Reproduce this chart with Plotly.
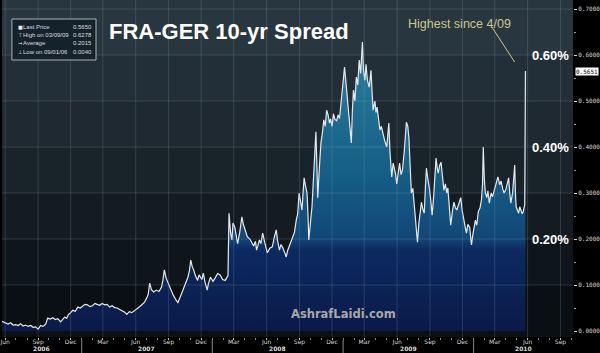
import plotly.graph_objects as go
import pandas as pd

# ---------------- data ----------------
dates = [
    "2006-05-23", "2006-05-26", "2006-06-02", "2006-06-09", "2006-06-16", "2006-06-23", "2006-06-30",
    "2006-07-07", "2006-07-14", "2006-07-21", "2006-07-28", "2006-08-04", "2006-08-11", "2006-08-18",
    "2006-08-25", "2006-09-01", "2006-09-08", "2006-09-15", "2006-09-22", "2006-09-28", "2006-10-05",
    "2006-10-12", "2006-10-19", "2006-10-26", "2006-11-03", "2006-11-09", "2006-11-14", "2006-11-20",
    "2006-11-25", "2006-12-01", "2006-12-07", "2006-12-14", "2006-12-21", "2006-12-28",
    "2007-01-03", "2007-01-10", "2007-01-17", "2007-01-24", "2007-01-31", "2007-02-07", "2007-02-13",
    "2007-02-20", "2007-02-27", "2007-03-06", "2007-03-13", "2007-03-20", "2007-03-27", "2007-04-03",
    "2007-04-10", "2007-04-17", "2007-04-24", "2007-05-01", "2007-05-07", "2007-05-14", "2007-05-21",
    "2007-05-28", "2007-06-04", "2007-06-11", "2007-06-18", "2007-06-25", "2007-07-02", "2007-07-06",
    "2007-07-10", "2007-07-15", "2007-07-21", "2007-07-29", "2007-08-05", "2007-08-12", "2007-08-16",
    "2007-08-20", "2007-08-25", "2007-08-31", "2007-09-04", "2007-09-08", "2007-09-14", "2007-09-22",
    "2007-09-27", "2007-10-04", "2007-10-11", "2007-10-18", "2007-10-25", "2007-10-29", "2007-11-02",
    "2007-11-06", "2007-11-10", "2007-11-15", "2007-11-21", "2007-11-25", "2007-11-29", "2007-12-03",
    "2007-12-07", "2007-12-12", "2007-12-18", "2007-12-21", "2007-12-27",
    "2008-01-03", "2008-01-09", "2008-01-16", "2008-01-23", "2008-01-30", "2008-02-06", "2008-02-11",
    "2008-02-14", "2008-02-17", "2008-02-21", "2008-02-25", "2008-02-28", "2008-03-04", "2008-03-08",
    "2008-03-12", "2008-03-18", "2008-03-24", "2008-03-28", "2008-04-01", "2008-04-08", "2008-04-15",
    "2008-04-21", "2008-04-26", "2008-05-01", "2008-05-04", "2008-05-08", "2008-05-12", "2008-05-16",
    "2008-05-21", "2008-05-27", "2008-06-03", "2008-06-10", "2008-06-17", "2008-06-23", "2008-06-28",
    "2008-07-02", "2008-07-07", "2008-07-11", "2008-07-15", "2008-07-21", "2008-07-26", "2008-07-30",
    "2008-08-03", "2008-08-08", "2008-08-12", "2008-08-18", "2008-08-23", "2008-08-27", "2008-08-31",
    "2008-09-04", "2008-09-08", "2008-09-11", "2008-09-14", "2008-09-18", "2008-09-22", "2008-09-25",
    "2008-09-27", "2008-10-01", "2008-10-06", "2008-10-10", "2008-10-14", "2008-10-17", "2008-10-20",
    "2008-10-22", "2008-10-27", "2008-10-31", "2008-11-04", "2008-11-08", "2008-11-12", "2008-11-16",
    "2008-11-20", "2008-11-24", "2008-11-27", "2008-12-01", "2008-12-05", "2008-12-09", "2008-12-14",
    "2008-12-18", "2008-12-22", "2008-12-25", "2008-12-30",
    "2009-01-05", "2009-01-09", "2009-01-13", "2009-01-17", "2009-01-21", "2009-01-24", "2009-01-27",
    "2009-01-30", "2009-02-03", "2009-02-07", "2009-02-11", "2009-02-15", "2009-02-19", "2009-02-24",
    "2009-02-27", "2009-03-03", "2009-03-06", "2009-03-10", "2009-03-15", "2009-03-20", "2009-03-23",
    "2009-03-26", "2009-03-31", "2009-04-03", "2009-04-06", "2009-04-10", "2009-04-14", "2009-04-18",
    "2009-04-22", "2009-04-27", "2009-05-03", "2009-05-06", "2009-05-09", "2009-05-12", "2009-05-17",
    "2009-05-21", "2009-05-25", "2009-05-28", "2009-05-31", "2009-06-04", "2009-06-08", "2009-06-12",
    "2009-06-16", "2009-06-21", "2009-06-27", "2009-07-01", "2009-07-04", "2009-07-08", "2009-07-11",
    "2009-07-15", "2009-07-19", "2009-07-23", "2009-07-28", "2009-08-01", "2009-08-04", "2009-08-08",
    "2009-08-12", "2009-08-16", "2009-08-19", "2009-08-22", "2009-08-26", "2009-08-30", "2009-09-03",
    "2009-09-07", "2009-09-11", "2009-09-15", "2009-09-18", "2009-09-21", "2009-09-24", "2009-09-28",
    "2009-10-02", "2009-10-06", "2009-10-10", "2009-10-14", "2009-10-18", "2009-10-21", "2009-10-25",
    "2009-10-29", "2009-11-03", "2009-11-07", "2009-11-11", "2009-11-15", "2009-11-20", "2009-11-26",
    "2009-11-30", "2009-12-04", "2009-12-08", "2009-12-12", "2009-12-16", "2009-12-21", "2009-12-26",
    "2009-12-30",
    "2010-01-03", "2010-01-06", "2010-01-10", "2010-01-14", "2010-01-19", "2010-01-23", "2010-01-26",
    "2010-01-28", "2010-01-31", "2010-02-03", "2010-02-07", "2010-02-10", "2010-02-14", "2010-02-19",
    "2010-02-23", "2010-02-27", "2010-03-02", "2010-03-06", "2010-03-10", "2010-03-15", "2010-03-19",
    "2010-03-23", "2010-03-27", "2010-04-01", "2010-04-05", "2010-04-09", "2010-04-12", "2010-04-15",
    "2010-04-20", "2010-04-23", "2010-04-26", "2010-04-28", "2010-04-30", "2010-05-04", "2010-05-07",
    "2010-05-10", "2010-05-12", "2010-05-17", "2010-05-20", "2010-05-24", "2010-05-26",
]

spread = [
    0.021, 0.020, 0.016, 0.015, 0.018, 0.013, 0.014,
    0.012, 0.016, 0.011, 0.013, 0.010, 0.012, 0.008,
    0.009, 0.004, 0.012, 0.010, 0.015, 0.028, 0.026,
    0.029, 0.025, 0.027, 0.020, 0.026, 0.030, 0.028,
    0.036, 0.040, 0.045, 0.043, 0.052, 0.050,
    0.054, 0.058, 0.057, 0.053, 0.055, 0.060, 0.058,
    0.056, 0.060, 0.057, 0.058, 0.052, 0.055, 0.051,
    0.050, 0.047, 0.045, 0.041, 0.036, 0.042, 0.040,
    0.044, 0.046, 0.052, 0.057, 0.062, 0.072, 0.080,
    0.104, 0.090, 0.085, 0.089, 0.086, 0.095, 0.110,
    0.133, 0.115, 0.104, 0.095, 0.090, 0.078, 0.067,
    0.062, 0.075, 0.089, 0.100, 0.117, 0.130, 0.154,
    0.140, 0.133, 0.120, 0.110, 0.122, 0.118, 0.112,
    0.126, 0.105, 0.089, 0.102, 0.117,
    0.108, 0.115, 0.125, 0.122, 0.112, 0.110, 0.118,
    0.120, 0.256, 0.215, 0.198, 0.235, 0.226, 0.205,
    0.190, 0.215, 0.248, 0.232, 0.220, 0.205, 0.200,
    0.192, 0.185, 0.195, 0.176, 0.186, 0.198, 0.190,
    0.213, 0.192, 0.170, 0.180, 0.183, 0.205, 0.220,
    0.195, 0.176, 0.188, 0.183, 0.172, 0.161, 0.175,
    0.183, 0.192, 0.204, 0.215, 0.241, 0.255, 0.300,
    0.285, 0.263, 0.300, 0.333, 0.315, 0.300, 0.250,
    0.198, 0.230, 0.270, 0.330, 0.390, 0.433, 0.350,
    0.290, 0.360, 0.409, 0.430, 0.459, 0.445, 0.480,
    0.470, 0.452, 0.461, 0.445, 0.472, 0.460, 0.457,
    0.470, 0.462, 0.487, 0.530,
    0.574, 0.540, 0.509, 0.470, 0.435, 0.409, 0.480,
    0.524, 0.500, 0.552, 0.535, 0.589, 0.560, 0.628,
    0.567, 0.545, 0.580, 0.545, 0.530, 0.567, 0.520,
    0.480, 0.500, 0.475, 0.487, 0.460, 0.437, 0.445,
    0.430, 0.415, 0.400, 0.430, 0.452, 0.390, 0.335,
    0.365, 0.350, 0.340, 0.320, 0.345, 0.365, 0.340,
    0.350, 0.390, 0.454, 0.445, 0.420, 0.350, 0.300,
    0.310, 0.270, 0.250, 0.193, 0.235, 0.262, 0.280,
    0.265, 0.256, 0.310, 0.354, 0.330, 0.313, 0.285,
    0.252, 0.290, 0.340, 0.376, 0.355, 0.343, 0.360,
    0.367, 0.335, 0.306, 0.320, 0.300, 0.311, 0.275,
    0.230, 0.262, 0.280, 0.268, 0.263, 0.275, 0.290,
    0.262, 0.241, 0.228, 0.213, 0.232, 0.225, 0.187,
    0.210,
    0.230, 0.241, 0.230, 0.259, 0.268, 0.285, 0.320,
    0.400, 0.330, 0.300, 0.290, 0.305, 0.278, 0.300,
    0.292, 0.305, 0.313, 0.325, 0.335, 0.318, 0.326,
    0.310, 0.300, 0.307, 0.320, 0.333, 0.300, 0.278,
    0.300, 0.330, 0.361, 0.300, 0.270, 0.262, 0.256,
    0.270, 0.265, 0.255, 0.260, 0.275, 0.565,
]

title_text = "FRA-GER 10-yr Spread"
stat_labels = ["Last Price", "High on 03/09/09", "Average", "Low on 09/01/06"]
stat_icons = ["\u25A0", "\u22A4", "\u2192", "\u22A5"]
stat_values = ["0.5650", "0.6278", "0.2015", "0.0040"]
pct_levels = [0.6, 0.4, 0.2]
pct_labels = ["0.60%", "0.40%", "0.20%"]
year_labels = ["2006", "2007", "2008", "2009", "2010"]
last_flag = "0.5651"
callout_text = "Highest since 4/09"
watermark = "AshrafLaidi.com"

# ---------------- layout constants ----------------
W, H = 600, 353
ML, MR, MT, MB = 0, 23, 0, 16
PW, PH = W - ML - MR, H - MT - MB
X_RANGE = ["2006-05-23", "2010-10-06"]
Y_RANGE = [-0.013, 0.7196]


def px(x):
    return (x - ML) / PW


def py(y):
    return 1 - (y - MT) / PH


fig = go.Figure()

fig.add_trace(go.Scatter(
    x=dates, y=spread, mode="lines",
    line=dict(color="#e6e9ec", width=1.2),
    fill="tozeroy",
    fillgradient=dict(
        type="vertical", start=0, stop=0.63,
        colorscale=[[0, "#0a1a48"], [0.28, "#0c2a60"], [0.32, "#114778"],
                    [0.55, "#165f86"], [1, "#2b7f9c"]],
    ),
    hoverinfo="skip", showlegend=False,
))

shapes = []
# background bands
bands = [(0.6, 0.7196, "#28363f"), (0.5, 0.6, "#222f38"), (0.4, 0.5, "#1e2931"),
         (0.3, 0.4, "#19232a"), (0.2, 0.3, "#141c22"), (0.1, 0.2, "#0f161b"),
         (-0.013, 0.1, "#0a0f13")]
for y0, y1, c in bands:
    shapes.append(dict(type="rect", xref="paper", yref="y", x0=0, x1=1, y0=y0, y1=y1,
                       fillcolor=c, line=dict(width=0), layer="below"))

tickvals = pd.date_range("2006-06-01", "2010-09-01", freq="3MS")
ticktext = [d.strftime("%b") for d in tickvals]

# grid lines drawn above the fill
for d in tickvals:
    shapes.append(dict(type="line", xref="x", yref="paper", x0=d, x1=d, y0=0, y1=1,
                       line=dict(color="rgba(150,170,180,0.22)", width=1)))
for v in [0.1, 0.2, 0.3, 0.4, 0.5, 0.6, 0.7]:
    shapes.append(dict(type="line", xref="paper", yref="y", x0=0, x1=1, y0=v, y1=v,
                       line=dict(color="rgba(150,170,180,0.22)", width=1)))

# year separators below axis
for yr in year_labels[1:]:
    shapes.append(dict(type="line", xref="x", yref="paper", x0=f"{yr}-01-01", x1=f"{yr}-01-01",
                       y0=py(340), y1=py(353), line=dict(color="#888", width=1)))

# stats box
shapes.append(dict(type="rect", xref="paper", yref="paper",
                   x0=px(10), x1=px(95), y0=py(60), y1=py(19),
                   fillcolor="#16222b", line=dict(color="#a9b2b8", width=1)))

# callout line
shapes.append(dict(type="line", xref="paper", yref="paper",
                   x0=px(495), y0=py(27), x1=px(518), y1=py(62),
                   line=dict(color="#c9c98a", width=1)))

annotations = []
annotations.append(dict(text=f"<b>{title_text}</b>", xref="paper", yref="paper",
                        x=px(229), y=py(17), showarrow=False,
                        font=dict(family="Liberation Sans, Arial", size=22, color="white")))
annotations.append(dict(text=callout_text, xref="paper", yref="paper",
                        x=px(516), y=py(15), showarrow=False,
                        font=dict(family="Liberation Sans, Arial", size=12.5, color="#c9c98a")))
annotations.append(dict(text=f"<b>{watermark}</b>", xref="paper", yref="paper",
                        x=px(345), y=py(323), showarrow=False,
                        font=dict(family="DejaVu Sans, Arial", size=11.5, color="#a8a8a8")))

for lvl, lab in zip(pct_levels, pct_labels):
    annotations.append(dict(text=f"<b>{lab}</b>", xref="paper", yref="y", x=1, y=lvl,
                            xanchor="right", xshift=-2, showarrow=False,
                            font=dict(family="Liberation Sans, Arial", size=13, color="white")))

annotations.append(dict(text=last_flag, xref="paper", yref="y", x=1, y=0.5651,
                        xanchor="left", xshift=2, showarrow=False, bgcolor="white",
                        borderpad=0, font=dict(family="DejaVu Sans Mono", size=6, color="black")))

line_ys = [27, 35, 43, 52]
for icon, lab, val, yy in zip(stat_icons, stat_labels, stat_values, line_ys):
    annotations.append(dict(text=icon, xref="paper", yref="paper",
                            x=px(14), y=py(yy), yanchor="middle", showarrow=False,
                            font=dict(family="DejaVu Sans", size=5, color="#e8ecee")))
    annotations.append(dict(text=lab, xref="paper", yref="paper",
                            x=px(19), y=py(yy), xanchor="left", yanchor="middle", showarrow=False,
                            font=dict(family="Liberation Sans, Arial", size=6, color="#d8dde0")))
    annotations.append(dict(text=val, xref="paper", yref="paper",
                            x=px(93), y=py(yy), xanchor="right", yanchor="middle", showarrow=False,
                            font=dict(family="Liberation Sans, Arial", size=6, color="#d8dde0")))

start, end = pd.Timestamp(X_RANGE[0]), pd.Timestamp(X_RANGE[1])
for yr in year_labels:
    a = max(pd.Timestamp(f"{yr}-01-01"), start)
    b = min(pd.Timestamp(f"{yr}-12-31"), end)
    mid = a + (b - a) / 2
    annotations.append(dict(text=f"<b>{yr}</b>", xref="x", yref="paper", x=mid, y=py(349),
                            yanchor="middle", showarrow=False,
                            font=dict(family="DejaVu Sans", size=6, color="#d8d8d8")))

fig.update_layout(
    width=W, height=H,
    margin=dict(l=ML, r=MR, t=MT, b=MB),
    paper_bgcolor="black", plot_bgcolor="#0a0f13",
    shapes=shapes, annotations=annotations,
    showlegend=False,
    xaxis=dict(
        type="date", range=X_RANGE, tickvals=list(tickvals), ticktext=ticktext,
        showgrid=False, zeroline=False, ticks="outside", ticklen=2, tickcolor="#bbb",
        tickfont=dict(family="DejaVu Sans", size=6, color="#d8d8d8"),
        ticklabelstandoff=-3, ticklabeloverflow="allow",
        showline=False,
        minor=dict(ticks="outside", ticklen=2, tickcolor="#888", dtick="M1",
                   tick0="2006-06-01"),
    ),
    yaxis=dict(
        range=Y_RANGE, side="right", tickvals=[0, 0.1, 0.2, 0.3, 0.4, 0.5, 0.6, 0.7],
        tickformat=".4f", showgrid=False, zeroline=False,
        ticks="outside", ticklen=3, tickcolor="#ddd",
        tickfont=dict(family="DejaVu Sans Mono", size=6, color="#d8d8d8"),
        minor=dict(ticks="outside", ticklen=2, tickcolor="#999", dtick=0.05),
    ),
)

fig.write_html("out.html")
